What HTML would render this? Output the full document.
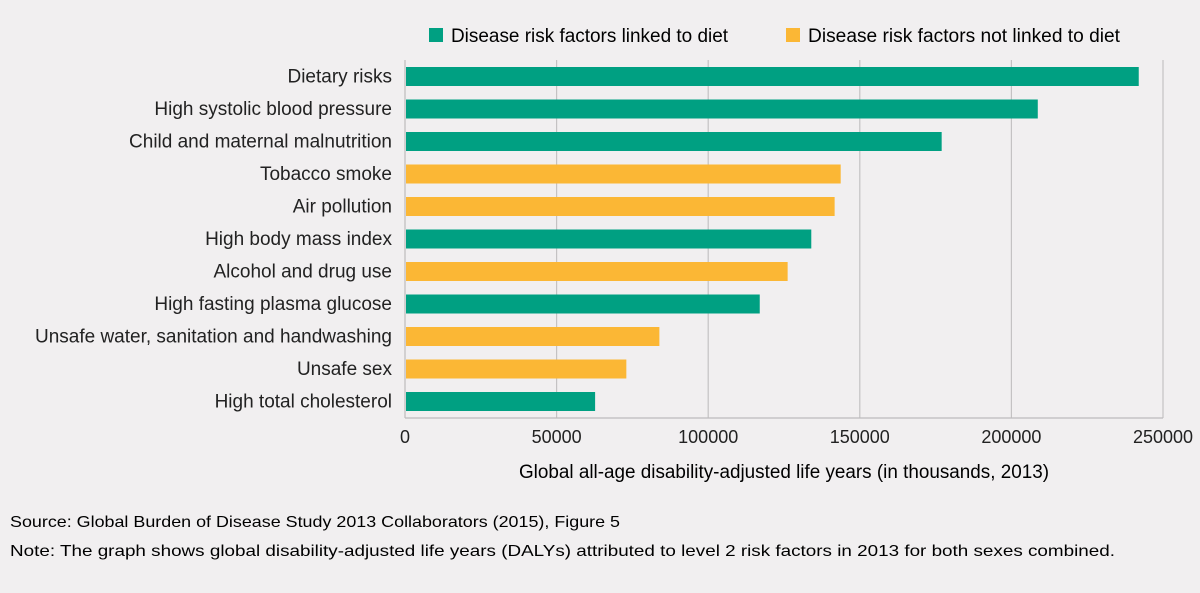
<!DOCTYPE html>
<html><head><meta charset="utf-8"><style>
body{margin:0;background:#f1eff0;width:1200px;height:588px;overflow:hidden;font-family:"Liberation Sans",sans-serif;color:#222}
</style></head><body>
<svg id="chart" width="1200" height="588" xmlns="http://www.w3.org/2000/svg" font-family="Liberation Sans, sans-serif">
<rect width="1200" height="588" fill="#f1eff0"/>
<g>
<rect x="429" y="28" width="14" height="14" fill="#00a082"/>
<text x="451" y="42" font-size="19" textLength="277" lengthAdjust="spacingAndGlyphs">Disease risk factors linked to diet</text>
<rect x="786" y="28" width="14" height="14" fill="#fbb735"/>
<text x="808" y="42" font-size="19" textLength="312" lengthAdjust="spacingAndGlyphs">Disease risk factors not linked to diet</text>
</g>
<g id="grid"></g><g id="bars"></g><g id="labels"></g><g id="ticks"></g>
<text x="519" y="478" font-size="19" textLength="530" lengthAdjust="spacingAndGlyphs">Global all-age disability-adjusted life years (in thousands, 2013)</text>
<text x="10" y="527" font-size="16" textLength="610" lengthAdjust="spacingAndGlyphs">Source: Global Burden of Disease Study 2013 Collaborators (2015), Figure 5</text>
<text x="10" y="556" font-size="16" textLength="1105" lengthAdjust="spacingAndGlyphs">Note: The graph shows global disability-adjusted life years (DALYs) attributed to level 2 risk factors in 2013 for both sexes combined.</text>
</svg>
<script>
const categories=["Dietary risks","High systolic blood pressure","Child and maternal malnutrition","Tobacco smoke","Air pollution","High body mass index","Alcohol and drug use","High fasting plasma glucose","Unsafe water, sanitation and handwashing","Unsafe sex","High total cholesterol"];
const values=[242000,208700,177000,143700,141700,134000,126200,117000,83900,73000,62700];
const dietLinked=[true,true,true,false,false,true,false,true,false,false,true];
const tickValues=[0,50000,100000,150000,200000,250000];
const tickLabels=["0","50000","100000","150000","200000","250000"];
const NS="http://www.w3.org/2000/svg";
const x0=405,x1=1163,xMax=250000,plotTop=60,plotBottom=418,barTop=67,step=32.5,barH=19;
const xs=v=>x0+(v/xMax)*(x1-x0);
function mk(t,a,p){const e=document.createElementNS(NS,t);for(const k in a)e.setAttribute(k,a[k]);p.appendChild(e);return e;}
const grid=document.getElementById('grid'),bars=document.getElementById('bars'),labels=document.getElementById('labels'),ticks=document.getElementById('ticks');
tickValues.forEach((v,i)=>{
 if(i>0){const l=mk('line',{x1:xs(v),x2:xs(v),y1:plotTop,y2:plotBottom,stroke:'#c4c2c3','stroke-width':1.2},grid);
 
 }
 const t=mk('text',{x:xs(v),y:443,'font-size':18,'text-anchor':'middle',fill:'#222'},ticks);t.textContent=tickLabels[i];
 
 
});
const ax=mk('line',{x1:x0,x2:x0,y1:plotTop,y2:plotBottom,stroke:'#bdbbbc','stroke-width':1.2},grid);


const bx=mk('line',{x1:x0,x2:x1,y1:plotBottom,y2:plotBottom,stroke:'#bdbbbc','stroke-width':1.2},grid);


categories.forEach((c,i)=>{
 const y=barTop+i*step;
 const r=mk('rect',{x:x0+1,y:y,width:xs(values[i])-x0-1,height:barH,fill:dietLinked[i]?'#00a082':'#fbb735'},bars);
 
 
 const t=mk('text',{x:392,y:y+barH/2+6,'font-size':19,'text-anchor':'end',fill:'#222'},labels);t.textContent=c;
 
 
});
</script>
</body></html>
